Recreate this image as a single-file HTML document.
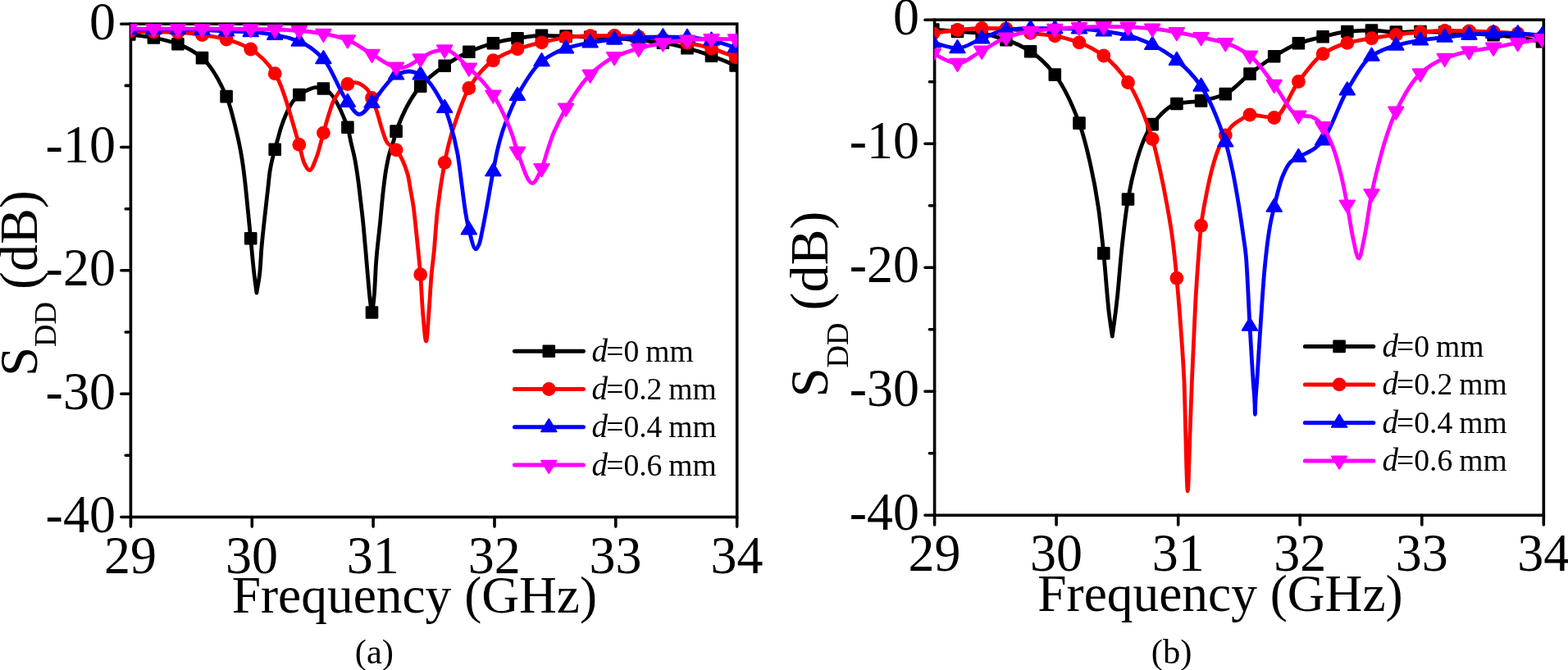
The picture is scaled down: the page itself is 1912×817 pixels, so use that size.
<!DOCTYPE html>
<html lang="en">
<head>
<meta charset="utf-8">
<title>S_DD versus frequency</title>
<style>
html,body{margin:0;padding:0;background:#fff;}
body{width:1912px;height:817px;overflow:hidden;}
svg{display:block;font-family:"Liberation Serif",serif;fill:#000;}
</style>
</head>
<body>
<svg width="1912" height="817" viewBox="0 0 1912 817">
<rect width="1912" height="817" fill="#fff"/>
<g stroke="#000" stroke-width="3.6" stroke-linecap="round" fill="none">
<rect x="159.4" y="29.2" width="739.3" height="601.3" stroke-linejoin="miter"/>
<path d="M159.4 630.5V642.1M307.3 630.5V642.1M455.1 630.5V642.1M603 630.5V642.1M750.8 630.5V642.1M898.7 630.5V642.1M159.4 29.2H147.8M159.4 179.5H147.8M159.4 329.8H147.8M159.4 480.2H147.8M159.4 630.5H147.8M159.4 104.4H153.2M159.4 254.7H153.2M159.4 405H153.2M159.4 555.3H153.2"/>
</g>
<clipPath id="ca"><rect x="159.1" y="29.2" width="740" height="601.3"/></clipPath>
<g clip-path="url(#ca)">
<path d="M157.8 42C167.7 43.3 177.5 44.2 187.4 46C197.2 47.8 207.1 50.2 216.9 53.7C226.8 57.2 236.7 62.3 246.5 70.6C256.4 78.9 266.2 94.8 276.1 117.6C281.1 129.1 286 149.6 291 172C292.4 178.5 293.9 185.9 295.3 195.1C296.6 203.6 298 214.6 299.3 226.5C300.1 233.9 301 243.2 301.8 251.6C303.1 264.6 304.4 277.6 305.7 290.7C307 304.7 308.4 320.9 309.8 333C310.8 342 311.9 349 312.9 357C314.2 348.9 315.5 344.5 316.8 332.8C317.5 326.2 318.3 310 319 301.4C320.1 288.9 321.1 280 322.2 270C323.6 256.9 325 245 326.4 232.8C327.4 224.3 328.3 213.7 329.3 207.7C330.3 201.7 331.2 197.6 332.2 193.5C333.2 189.2 334.2 186 335.2 182.3C336.4 178.2 337.5 174 338.6 170C340 165 341.4 159.5 342.8 155.3C345 148.5 347.3 142.5 349.5 137.7C352 132.3 354.5 127.3 357 123.9C359.6 120.4 362.2 117.5 364.8 115.6C369.2 112.4 373.7 110.3 378.1 108.6C380.2 107.8 382.2 106.6 384.3 106.6C387.7 106.6 391 107.2 394.4 108C404.2 110.2 414.1 128.5 423.9 155.2C425.2 158.5 426.4 166.5 427.6 172C429.4 179.9 431.1 185.8 432.9 195.1C434.2 201.9 435.5 210.7 436.8 220.2C437.8 227.5 438.8 236.7 439.8 245.3C440.8 253.9 441.8 261.9 442.8 271.7C444.2 285.8 445.7 303.9 447.1 320.2C448.2 332.7 449.3 347 450.4 357.9C451.4 368.1 452.5 376 453.5 385C454.5 376 455.5 370.2 456.5 357.9C457.2 349.3 457.9 329.5 458.6 320.2C460.2 298.5 461.9 288.2 463.5 271.7C464.8 258.9 466 243.8 467.3 232.8C468.4 223.2 469.5 214.2 470.6 207.7C472.1 198.8 473.6 191.8 475.1 186.3C476.7 180.4 478.3 177.3 479.9 172C481 168.4 482 163 483.1 160.1C492.9 133.2 502.8 116.5 512.7 105.1C522.5 93.7 532.4 86.9 542.2 80.2C552.1 73.5 562 67.6 571.8 63.3C581.7 59 591.5 55.3 601.4 52.7C611.2 50.1 621.1 48.1 631 46.7C640.8 45.3 650.7 43.3 660.5 43.3C670.4 43.3 680.2 43.8 690.1 44.1C700 44.4 709.8 44.8 719.7 45.2C729.5 45.6 739.4 46 749.2 46.6C759.1 47.2 769 48.1 778.8 49C788.7 49.9 798.5 50.8 808.4 52.2C818.2 53.6 828.1 56.2 838 58.8C847.8 61.4 857.7 64.6 867.5 68.1C877.4 71.6 887.2 76 897.1 80" fill="none" stroke="#000" stroke-width="4.8" stroke-linejoin="round" stroke-linecap="round"/>
<g><rect x="151.2" y="35.4" width="13.2" height="13.2" fill="#000" stroke="#000" stroke-width="2.4" stroke-linejoin="round"/><rect x="180.8" y="39.4" width="13.2" height="13.2" fill="#000" stroke="#000" stroke-width="2.4" stroke-linejoin="round"/><rect x="210.3" y="47.1" width="13.2" height="13.2" fill="#000" stroke="#000" stroke-width="2.4" stroke-linejoin="round"/><rect x="239.9" y="64" width="13.2" height="13.2" fill="#000" stroke="#000" stroke-width="2.4" stroke-linejoin="round"/><rect x="269.5" y="111" width="13.2" height="13.2" fill="#000" stroke="#000" stroke-width="2.4" stroke-linejoin="round"/><rect x="299.1" y="284.1" width="13.2" height="13.2" fill="#000" stroke="#000" stroke-width="2.4" stroke-linejoin="round"/><rect x="328.6" y="175.7" width="13.2" height="13.2" fill="#000" stroke="#000" stroke-width="2.4" stroke-linejoin="round"/><rect x="358.2" y="109" width="13.2" height="13.2" fill="#000" stroke="#000" stroke-width="2.4" stroke-linejoin="round"/><rect x="387.8" y="101.4" width="13.2" height="13.2" fill="#000" stroke="#000" stroke-width="2.4" stroke-linejoin="round"/><rect x="417.3" y="148.6" width="13.2" height="13.2" fill="#000" stroke="#000" stroke-width="2.4" stroke-linejoin="round"/><rect x="446.9" y="374.4" width="13.2" height="13.2" fill="#000" stroke="#000" stroke-width="2.4" stroke-linejoin="round"/><rect x="476.5" y="153.5" width="13.2" height="13.2" fill="#000" stroke="#000" stroke-width="2.4" stroke-linejoin="round"/><rect x="506.1" y="98.5" width="13.2" height="13.2" fill="#000" stroke="#000" stroke-width="2.4" stroke-linejoin="round"/><rect x="535.6" y="73.6" width="13.2" height="13.2" fill="#000" stroke="#000" stroke-width="2.4" stroke-linejoin="round"/><rect x="565.2" y="56.7" width="13.2" height="13.2" fill="#000" stroke="#000" stroke-width="2.4" stroke-linejoin="round"/><rect x="594.8" y="46.1" width="13.2" height="13.2" fill="#000" stroke="#000" stroke-width="2.4" stroke-linejoin="round"/><rect x="624.4" y="40.1" width="13.2" height="13.2" fill="#000" stroke="#000" stroke-width="2.4" stroke-linejoin="round"/><rect x="653.9" y="36.7" width="13.2" height="13.2" fill="#000" stroke="#000" stroke-width="2.4" stroke-linejoin="round"/><rect x="683.5" y="37.5" width="13.2" height="13.2" fill="#000" stroke="#000" stroke-width="2.4" stroke-linejoin="round"/><rect x="713.1" y="38.6" width="13.2" height="13.2" fill="#000" stroke="#000" stroke-width="2.4" stroke-linejoin="round"/><rect x="742.6" y="40" width="13.2" height="13.2" fill="#000" stroke="#000" stroke-width="2.4" stroke-linejoin="round"/><rect x="772.2" y="42.4" width="13.2" height="13.2" fill="#000" stroke="#000" stroke-width="2.4" stroke-linejoin="round"/><rect x="801.8" y="45.6" width="13.2" height="13.2" fill="#000" stroke="#000" stroke-width="2.4" stroke-linejoin="round"/><rect x="831.4" y="52.2" width="13.2" height="13.2" fill="#000" stroke="#000" stroke-width="2.4" stroke-linejoin="round"/><rect x="860.9" y="61.5" width="13.2" height="13.2" fill="#000" stroke="#000" stroke-width="2.4" stroke-linejoin="round"/><rect x="890.5" y="73.4" width="13.2" height="13.2" fill="#000" stroke="#000" stroke-width="2.4" stroke-linejoin="round"/></g>
<path d="M157.8 38.5C167.7 38.6 177.5 38.7 187.4 38.8C197.2 38.9 207.1 39.1 216.9 39.4C226.8 39.7 236.7 41.3 246.5 42.6C256.4 43.9 266.2 45.5 276.1 48C285.9 50.5 295.8 54.3 305.7 60C315.5 65.7 325.4 75 335.2 89.7C345.1 104.4 354.9 143.7 364.8 176.4C366.9 183.3 368.9 194.8 371 198.9C373.2 203.2 375.3 207.7 377.5 207.7C380.4 207.7 383.2 198.4 386.1 191.3C388.9 184.5 391.6 171.7 394.4 162.1C396.5 154.7 398.6 146.8 400.7 140.2C402.8 133.8 404.8 126.4 406.9 122.7C412.6 112.6 418.3 104.3 423.9 102.5C427.1 101.5 430.2 100.7 433.3 100.7C437.9 100.7 442.5 104.1 447.1 108.2C449.2 110.1 451.4 114.8 453.5 119.4C455.6 123.8 457.6 130.2 459.7 136.5C461.8 142.8 463.8 151.7 465.9 157.8C468 164 470.1 171.4 472.2 174.1C475.8 178.8 479.5 178.7 483.1 182.9C487.8 188.3 492.5 196.9 497.2 212.8C498.3 216.6 499.5 225.2 500.6 231.6C501.8 238.2 502.9 243.5 504.1 251.7C505.2 259.2 506.2 270.3 507.3 280.2C508.2 288.2 509 296.5 509.9 305.3C510.8 314.6 511.7 322.9 512.7 334.7C513.6 346.8 514.6 369.4 515.5 380.2C516.9 396.2 518.3 416.2 519.7 416.2C520.8 416.2 521.9 393.9 523 380.2C524.1 366.9 525.1 345.8 526.2 334C527.3 322.2 528.3 316.9 529.4 305.3C530 298.4 530.7 287.8 531.3 280.2C532.1 271 532.8 261.7 533.6 255.1C536.5 230.3 539.4 213.3 542.2 198.3C544.5 186.6 546.7 177.1 549 168.8C550.7 162.4 552.5 157 554.2 152C560.1 135 565.9 117 571.8 107.5C581.7 91.5 591.5 80.3 601.4 73.7C611.2 67.1 621.1 63.1 631 59.7C640.8 56.3 650.7 54.1 660.5 51.8C670.4 49.5 680.2 46.8 690.1 45.8C700 44.8 709.8 43.8 719.7 43.7C729.5 43.6 739.4 43.5 749.2 43.5C759.1 43.5 769 44.2 778.8 44.8C788.7 45.4 798.5 46.6 808.4 47.8C818.2 49 828.1 50.4 838 52.2C847.8 54 857.7 56.3 867.5 59.1C877.4 61.9 887.2 66.2 897.1 69.7" fill="none" stroke="#f00" stroke-width="4.8" stroke-linejoin="round" stroke-linecap="round"/>
<g><circle cx="157.8" cy="38.5" r="8.4" fill="#f00"/><circle cx="187.4" cy="38.8" r="8.4" fill="#f00"/><circle cx="216.9" cy="39.4" r="8.4" fill="#f00"/><circle cx="246.5" cy="42.6" r="8.4" fill="#f00"/><circle cx="276.1" cy="48" r="8.4" fill="#f00"/><circle cx="305.7" cy="60" r="8.4" fill="#f00"/><circle cx="335.2" cy="89.7" r="8.4" fill="#f00"/><circle cx="364.8" cy="176.4" r="8.4" fill="#f00"/><circle cx="394.4" cy="162.1" r="8.4" fill="#f00"/><circle cx="423.9" cy="102.5" r="8.4" fill="#f00"/><circle cx="453.5" cy="119.4" r="8.4" fill="#f00"/><circle cx="483.1" cy="182.9" r="8.4" fill="#f00"/><circle cx="512.7" cy="334.7" r="8.4" fill="#f00"/><circle cx="542.2" cy="198.3" r="8.4" fill="#f00"/><circle cx="571.8" cy="107.5" r="8.4" fill="#f00"/><circle cx="601.4" cy="73.7" r="8.4" fill="#f00"/><circle cx="631" cy="59.7" r="8.4" fill="#f00"/><circle cx="660.5" cy="51.8" r="8.4" fill="#f00"/><circle cx="690.1" cy="45.8" r="8.4" fill="#f00"/><circle cx="719.7" cy="43.7" r="8.4" fill="#f00"/><circle cx="749.2" cy="43.5" r="8.4" fill="#f00"/><circle cx="778.8" cy="44.8" r="8.4" fill="#f00"/><circle cx="808.4" cy="47.8" r="8.4" fill="#f00"/><circle cx="838" cy="52.2" r="8.4" fill="#f00"/><circle cx="867.5" cy="59.1" r="8.4" fill="#f00"/><circle cx="897.1" cy="69.7" r="8.4" fill="#f00"/></g>
<path d="M157.8 35.8C167.7 35.8 177.5 35.8 187.4 35.8C197.2 35.8 207.1 35.8 216.9 35.8C226.8 35.8 236.7 36.3 246.5 36.6C256.4 36.9 266.2 37.6 276.1 38C285.9 38.4 295.8 38.4 305.7 38.9C315.5 39.4 325.4 40.9 335.2 42.5C345.1 44.1 354.9 46.6 364.8 50.4C374.7 54.2 384.5 61.6 394.4 71.8C404.2 82 414.1 112 423.9 124.6C428.7 130.7 433.4 139.5 438.2 139.5C443.3 139.5 448.4 131 453.5 125.6C459 119.8 464.5 110.7 470 104.5C474.4 99.6 478.7 93.1 483.1 91.2C488.4 88.9 493.7 87 499 87C503.6 87 508.1 89 512.7 91C522.5 95.4 532.4 111.9 542.2 131.5C544.4 135.9 546.6 142.8 548.8 150C551.9 160.1 554.9 171.1 558 187.7C559.7 196.9 561.4 212.8 563.1 225.3C564.6 236.6 566.2 250.1 567.7 259.3C569.1 267.5 570.4 274.9 571.8 280C574.6 290.5 577.4 303.9 580.2 303.9C581.6 303.9 582.9 300.8 584.3 297.8C585.6 294.8 587 286.6 588.3 280.2C589.9 272.6 591.5 263.7 593.1 255.1C595.9 240.2 598.6 223.3 601.4 208.8C603.2 199.2 605.1 189.2 606.9 181.4C608.6 174.2 610.3 168.1 612 162.6C613.3 158.3 614.7 154.5 616 151C621 137.9 626 125.5 631 116.6C640.8 98.9 650.7 82.6 660.5 74.9C670.4 67.2 680.2 62.2 690.1 59C700 55.8 709.8 53.7 719.7 52C729.5 50.3 739.4 49 749.2 48C759.1 47 769 45.8 778.8 45.5C788.7 45.2 798.5 45 808.4 45C818.2 45 828.1 45.2 838 45.5C847.8 45.8 857.7 47.6 867.5 49.4C877.4 51.2 887.2 55.1 897.1 58" fill="none" stroke="#00f" stroke-width="4.8" stroke-linejoin="round" stroke-linecap="round"/>
<g><path d="M157.8 26L167 41.2L148.6 41.2Z" fill="#00f" stroke="#00f" stroke-width="2" stroke-linejoin="round"/><path d="M187.4 26L196.6 41.2L178.2 41.2Z" fill="#00f" stroke="#00f" stroke-width="2" stroke-linejoin="round"/><path d="M216.9 26L226.1 41.2L207.7 41.2Z" fill="#00f" stroke="#00f" stroke-width="2" stroke-linejoin="round"/><path d="M246.5 26.8L255.7 42L237.3 42Z" fill="#00f" stroke="#00f" stroke-width="2" stroke-linejoin="round"/><path d="M276.1 28.2L285.3 43.4L266.9 43.4Z" fill="#00f" stroke="#00f" stroke-width="2" stroke-linejoin="round"/><path d="M305.7 29.1L314.9 44.3L296.5 44.3Z" fill="#00f" stroke="#00f" stroke-width="2" stroke-linejoin="round"/><path d="M335.2 32.7L344.4 47.9L326 47.9Z" fill="#00f" stroke="#00f" stroke-width="2" stroke-linejoin="round"/><path d="M364.8 40.6L374 55.8L355.6 55.8Z" fill="#00f" stroke="#00f" stroke-width="2" stroke-linejoin="round"/><path d="M394.4 62L403.6 77.2L385.2 77.2Z" fill="#00f" stroke="#00f" stroke-width="2" stroke-linejoin="round"/><path d="M423.9 114.8L433.1 130L414.7 130Z" fill="#00f" stroke="#00f" stroke-width="2" stroke-linejoin="round"/><path d="M453.5 115.8L462.7 131L444.3 131Z" fill="#00f" stroke="#00f" stroke-width="2" stroke-linejoin="round"/><path d="M483.1 81.4L492.3 96.6L473.9 96.6Z" fill="#00f" stroke="#00f" stroke-width="2" stroke-linejoin="round"/><path d="M512.7 81.2L521.9 96.4L503.5 96.4Z" fill="#00f" stroke="#00f" stroke-width="2" stroke-linejoin="round"/><path d="M542.2 121.7L551.4 136.9L533 136.9Z" fill="#00f" stroke="#00f" stroke-width="2" stroke-linejoin="round"/><path d="M571.8 270.2L581 285.4L562.6 285.4Z" fill="#00f" stroke="#00f" stroke-width="2" stroke-linejoin="round"/><path d="M601.4 199L610.6 214.2L592.2 214.2Z" fill="#00f" stroke="#00f" stroke-width="2" stroke-linejoin="round"/><path d="M631 106.8L640.2 122L621.8 122Z" fill="#00f" stroke="#00f" stroke-width="2" stroke-linejoin="round"/><path d="M660.5 65.1L669.7 80.3L651.3 80.3Z" fill="#00f" stroke="#00f" stroke-width="2" stroke-linejoin="round"/><path d="M690.1 49.2L699.3 64.4L680.9 64.4Z" fill="#00f" stroke="#00f" stroke-width="2" stroke-linejoin="round"/><path d="M719.7 42.2L728.9 57.4L710.5 57.4Z" fill="#00f" stroke="#00f" stroke-width="2" stroke-linejoin="round"/><path d="M749.2 38.2L758.4 53.4L740 53.4Z" fill="#00f" stroke="#00f" stroke-width="2" stroke-linejoin="round"/><path d="M778.8 35.7L788 50.9L769.6 50.9Z" fill="#00f" stroke="#00f" stroke-width="2" stroke-linejoin="round"/><path d="M808.4 35.2L817.6 50.4L799.2 50.4Z" fill="#00f" stroke="#00f" stroke-width="2" stroke-linejoin="round"/><path d="M838 35.7L847.2 50.9L828.8 50.9Z" fill="#00f" stroke="#00f" stroke-width="2" stroke-linejoin="round"/><path d="M867.5 39.6L876.7 54.8L858.3 54.8Z" fill="#00f" stroke="#00f" stroke-width="2" stroke-linejoin="round"/><path d="M897.1 48.2L906.3 63.4L887.9 63.4Z" fill="#00f" stroke="#00f" stroke-width="2" stroke-linejoin="round"/></g>
<path d="M157.8 35.1C167.7 35.1 177.5 35.1 187.4 35.1C197.2 35.1 207.1 35.1 216.9 35.1C226.8 35.1 236.7 35.1 246.5 35.1C256.4 35.1 266.2 35.1 276.1 35.1C285.9 35.1 295.8 35.3 305.7 35.4C315.5 35.5 325.4 35.9 335.2 36.2C345.1 36.5 354.9 36.9 364.8 37.5C374.7 38.1 384.5 39.5 394.4 41.2C404.2 42.9 414.1 45.2 423.9 48.7C433.8 52.2 443.7 60.7 453.5 66.2C463.4 71.7 473.2 80.6 483.1 82C485.2 82.3 487.4 82.6 489.5 82.6C497.2 82.6 504.9 75.5 512.7 71.6C517.7 69 522.8 64.7 527.9 63.3C532.7 62 537.5 60.7 542.2 60.7C552.1 60.7 562 74 571.8 82.8C581.7 91.6 591.5 101.5 601.4 115.8C607.5 124.7 613.7 137.8 619.8 152C621.6 156.2 623.4 161.1 625.2 166.3C627.1 171.9 629 179.8 631 184.9C637 201 643.1 223.4 649.2 223.4C653 223.4 656.7 213.5 660.5 205.4C663 200.1 665.5 189.7 668 182.3C670.3 175.5 672.5 168.1 674.8 162.6C676.5 158.6 678.1 155.4 679.8 152C683.2 145 686.7 137.7 690.1 132C700 115.6 709.8 100.3 719.7 90.9C729.5 81.5 739.4 74 749.2 69.4C759.1 64.8 769 61.8 778.8 59.1C788.7 56.4 798.5 54.2 808.4 52.6C818.2 51 828.1 49.4 838 48.8C847.8 48.2 857.7 47.5 867.5 47.5C877.4 47.5 887.2 47.6 897.1 47.6" fill="none" stroke="#f0f" stroke-width="4.8" stroke-linejoin="round" stroke-linecap="round"/>
<g><path d="M157.8 44.9L167 29.7L148.6 29.7Z" fill="#f0f" stroke="#f0f" stroke-width="2" stroke-linejoin="round"/><path d="M187.4 44.9L196.6 29.7L178.2 29.7Z" fill="#f0f" stroke="#f0f" stroke-width="2" stroke-linejoin="round"/><path d="M216.9 44.9L226.1 29.7L207.7 29.7Z" fill="#f0f" stroke="#f0f" stroke-width="2" stroke-linejoin="round"/><path d="M246.5 44.9L255.7 29.7L237.3 29.7Z" fill="#f0f" stroke="#f0f" stroke-width="2" stroke-linejoin="round"/><path d="M276.1 44.9L285.3 29.7L266.9 29.7Z" fill="#f0f" stroke="#f0f" stroke-width="2" stroke-linejoin="round"/><path d="M305.7 45.2L314.9 30L296.5 30Z" fill="#f0f" stroke="#f0f" stroke-width="2" stroke-linejoin="round"/><path d="M335.2 46L344.4 30.8L326 30.8Z" fill="#f0f" stroke="#f0f" stroke-width="2" stroke-linejoin="round"/><path d="M364.8 47.3L374 32.1L355.6 32.1Z" fill="#f0f" stroke="#f0f" stroke-width="2" stroke-linejoin="round"/><path d="M394.4 51L403.6 35.8L385.2 35.8Z" fill="#f0f" stroke="#f0f" stroke-width="2" stroke-linejoin="round"/><path d="M423.9 58.5L433.1 43.3L414.7 43.3Z" fill="#f0f" stroke="#f0f" stroke-width="2" stroke-linejoin="round"/><path d="M453.5 76L462.7 60.8L444.3 60.8Z" fill="#f0f" stroke="#f0f" stroke-width="2" stroke-linejoin="round"/><path d="M483.1 91.8L492.3 76.6L473.9 76.6Z" fill="#f0f" stroke="#f0f" stroke-width="2" stroke-linejoin="round"/><path d="M512.7 81.4L521.9 66.2L503.5 66.2Z" fill="#f0f" stroke="#f0f" stroke-width="2" stroke-linejoin="round"/><path d="M542.2 70.5L551.4 55.3L533 55.3Z" fill="#f0f" stroke="#f0f" stroke-width="2" stroke-linejoin="round"/><path d="M571.8 92.6L581 77.4L562.6 77.4Z" fill="#f0f" stroke="#f0f" stroke-width="2" stroke-linejoin="round"/><path d="M601.4 125.6L610.6 110.4L592.2 110.4Z" fill="#f0f" stroke="#f0f" stroke-width="2" stroke-linejoin="round"/><path d="M631 194.7L640.2 179.5L621.8 179.5Z" fill="#f0f" stroke="#f0f" stroke-width="2" stroke-linejoin="round"/><path d="M660.5 215.2L669.7 200L651.3 200Z" fill="#f0f" stroke="#f0f" stroke-width="2" stroke-linejoin="round"/><path d="M690.1 141.8L699.3 126.6L680.9 126.6Z" fill="#f0f" stroke="#f0f" stroke-width="2" stroke-linejoin="round"/><path d="M719.7 100.7L728.9 85.5L710.5 85.5Z" fill="#f0f" stroke="#f0f" stroke-width="2" stroke-linejoin="round"/><path d="M749.2 79.2L758.4 64L740 64Z" fill="#f0f" stroke="#f0f" stroke-width="2" stroke-linejoin="round"/><path d="M778.8 68.9L788 53.7L769.6 53.7Z" fill="#f0f" stroke="#f0f" stroke-width="2" stroke-linejoin="round"/><path d="M808.4 62.4L817.6 47.2L799.2 47.2Z" fill="#f0f" stroke="#f0f" stroke-width="2" stroke-linejoin="round"/><path d="M838 58.6L847.2 43.4L828.8 43.4Z" fill="#f0f" stroke="#f0f" stroke-width="2" stroke-linejoin="round"/><path d="M867.5 57.3L876.7 42.1L858.3 42.1Z" fill="#f0f" stroke="#f0f" stroke-width="2" stroke-linejoin="round"/><path d="M897.1 57.4L906.3 42.2L887.9 42.2Z" fill="#f0f" stroke="#f0f" stroke-width="2" stroke-linejoin="round"/></g>
</g>
<g font-size="64" text-anchor="middle">
<text transform="translate(159.1 698.5) scale(1 1.035)">29</text>
<text transform="translate(307 698.5) scale(1 1.035)">30</text>
<text transform="translate(454.8 698.5) scale(1 1.035)">31</text>
<text transform="translate(602.7 698.5) scale(1 1.035)">32</text>
<text transform="translate(750.5 698.5) scale(1 1.035)">33</text>
<text transform="translate(898.4 698.5) scale(1 1.035)">34</text>
</g>
<g font-size="64" text-anchor="end">
<text transform="translate(140.9 47.5) scale(1 1.035)">0</text>
<text transform="translate(140.9 197.8) scale(1 1.035)">-10</text>
<text transform="translate(140.9 348.1) scale(1 1.035)">-20</text>
<text transform="translate(140.9 498.5) scale(1 1.035)">-30</text>
<text transform="translate(140.9 648.8) scale(1 1.035)">-40</text>
</g>
<text x="505.4" y="746.7" font-size="63.4" text-anchor="middle">Frequency (GHz)</text>
<text transform="translate(44.5 458.8) rotate(-90)" font-size="64.5">S<tspan font-size="38" dy="23.4">DD</tspan><tspan dy="-23.4" dx="-1.5" font-size="66"> (dB)</tspan></text>
<text x="456.4" y="809" font-size="42.6" text-anchor="middle">(a)</text>
<path d="M627.4 428.2H711.4" stroke="#000" stroke-width="5" stroke-linecap="round"/>
<rect x="662.7" y="421.6" width="13.2" height="13.2" fill="#000" stroke="#000" stroke-width="2.4" stroke-linejoin="round"/>
<text x="721.5" y="440.7" font-size="37.6" word-spacing="-1.4"><tspan font-style="italic" font-size="39">d</tspan><tspan x="739.2">=0 mm</tspan></text>
<path d="M627.4 474.5H711.4" stroke="#f00" stroke-width="5" stroke-linecap="round"/>
<circle cx="669.3" cy="474.5" r="8.4" fill="#f00"/>
<text x="721.5" y="487" font-size="37.6" word-spacing="-1.4"><tspan font-style="italic" font-size="39">d</tspan><tspan x="739.2">=0.2 mm</tspan></text>
<path d="M627.4 520.8H711.4" stroke="#00f" stroke-width="5" stroke-linecap="round"/>
<path d="M669.3 511L678.5 526.2L660.1 526.2Z" fill="#00f" stroke="#00f" stroke-width="2" stroke-linejoin="round"/>
<text x="721.5" y="533.3" font-size="37.6" word-spacing="-1.4"><tspan font-style="italic" font-size="39">d</tspan><tspan x="739.2">=0.4 mm</tspan></text>
<path d="M627.4 567.1H711.4" stroke="#f0f" stroke-width="5" stroke-linecap="round"/>
<path d="M669.3 576.9L678.5 561.7L660.1 561.7Z" fill="#f0f" stroke="#f0f" stroke-width="2" stroke-linejoin="round"/>
<text x="721.5" y="579.6" font-size="37.6" word-spacing="-1.4"><tspan font-style="italic" font-size="39">d</tspan><tspan x="739.2">=0.6 mm</tspan></text>
<g stroke="#000" stroke-width="3.6" stroke-linecap="round" fill="none">
<rect x="1139.6" y="24.2" width="742.7" height="604.1" stroke-linejoin="miter"/>
<path d="M1139.6 628.3V639.9M1288.1 628.3V639.9M1436.7 628.3V639.9M1585.2 628.3V639.9M1733.8 628.3V639.9M1882.3 628.3V639.9M1139.6 24.2H1128M1139.6 175.2H1128M1139.6 326.2H1128M1139.6 477.3H1128M1139.6 628.3H1128M1139.6 99.7H1133.4M1139.6 250.7H1133.4M1139.6 401.8H1133.4M1139.6 552.8H1133.4"/>
</g>
<clipPath id="cb"><rect x="1139.3" y="24.2" width="743.4" height="604.1"/></clipPath>
<g clip-path="url(#cb)">
<path d="M1137.8 36.1C1147.7 36.9 1157.6 37.6 1167.5 38.4C1177.4 39.2 1187.3 39.6 1197.2 40.8C1207.1 42 1217 45.3 1226.9 48.6C1236.8 51.9 1246.7 56.4 1256.6 62.7C1266.5 69 1276.4 78.3 1286.3 91.1C1296.2 103.9 1306.1 123.5 1316 150.1C1320.5 162.1 1325 179.8 1329.5 199.7C1332.8 214.3 1336.1 230.8 1339.4 253.3C1341.5 267.7 1343.6 288.1 1345.8 308.9C1347.9 329.7 1350 361.7 1352.1 380C1353.5 392.1 1354.9 400.1 1356.3 410.2C1357.7 400.1 1359 391 1360.4 380C1361.2 373.8 1361.9 367.3 1362.7 360C1364.3 344.3 1366 321.3 1367.6 306C1370.2 281.4 1372.8 258.2 1375.5 243C1378.7 224.3 1381.9 211.2 1385.1 199.7C1388.4 187.7 1391.8 177.4 1395.1 169.9C1398.5 162.3 1401.8 155.7 1405.2 151.6C1415.1 139.4 1425 128.6 1434.9 126.5C1444.8 124.4 1454.7 124.6 1464.6 122.9C1474.5 121.2 1484.4 118.7 1494.3 114.6C1504.2 110.5 1514.1 97.7 1524 90.1C1533.9 82.5 1543.8 74.8 1553.7 68.7C1563.6 62.6 1573.5 56.3 1583.4 52.8C1593.3 49.3 1603.2 47.1 1613.1 44.8C1623 42.5 1632.9 39.3 1642.8 38.5C1652.7 37.7 1662.6 37.1 1672.5 37.1C1682.4 37.1 1692.3 39.1 1702.3 39.1C1712.2 39.1 1722.1 38.5 1732 38.5C1741.9 38.5 1751.8 39 1761.7 39.4C1771.6 39.8 1781.5 40.5 1791.4 41C1801.3 41.5 1811.2 41.9 1821.1 42.6C1831 43.3 1840.9 44.7 1850.8 46C1860.7 47.3 1870.6 49.2 1880.5 50.8" fill="none" stroke="#000" stroke-width="4.8" stroke-linejoin="round" stroke-linecap="round"/>
<g><rect x="1131.2" y="29.5" width="13.2" height="13.2" fill="#000" stroke="#000" stroke-width="2.4" stroke-linejoin="round"/><rect x="1160.9" y="31.8" width="13.2" height="13.2" fill="#000" stroke="#000" stroke-width="2.4" stroke-linejoin="round"/><rect x="1190.6" y="34.2" width="13.2" height="13.2" fill="#000" stroke="#000" stroke-width="2.4" stroke-linejoin="round"/><rect x="1220.3" y="42" width="13.2" height="13.2" fill="#000" stroke="#000" stroke-width="2.4" stroke-linejoin="round"/><rect x="1250" y="56.1" width="13.2" height="13.2" fill="#000" stroke="#000" stroke-width="2.4" stroke-linejoin="round"/><rect x="1279.7" y="84.5" width="13.2" height="13.2" fill="#000" stroke="#000" stroke-width="2.4" stroke-linejoin="round"/><rect x="1309.4" y="143.5" width="13.2" height="13.2" fill="#000" stroke="#000" stroke-width="2.4" stroke-linejoin="round"/><rect x="1339.2" y="302.3" width="13.2" height="13.2" fill="#000" stroke="#000" stroke-width="2.4" stroke-linejoin="round"/><rect x="1368.9" y="236.4" width="13.2" height="13.2" fill="#000" stroke="#000" stroke-width="2.4" stroke-linejoin="round"/><rect x="1398.6" y="145" width="13.2" height="13.2" fill="#000" stroke="#000" stroke-width="2.4" stroke-linejoin="round"/><rect x="1428.3" y="119.9" width="13.2" height="13.2" fill="#000" stroke="#000" stroke-width="2.4" stroke-linejoin="round"/><rect x="1458" y="116.3" width="13.2" height="13.2" fill="#000" stroke="#000" stroke-width="2.4" stroke-linejoin="round"/><rect x="1487.7" y="108" width="13.2" height="13.2" fill="#000" stroke="#000" stroke-width="2.4" stroke-linejoin="round"/><rect x="1517.4" y="83.5" width="13.2" height="13.2" fill="#000" stroke="#000" stroke-width="2.4" stroke-linejoin="round"/><rect x="1547.1" y="62.1" width="13.2" height="13.2" fill="#000" stroke="#000" stroke-width="2.4" stroke-linejoin="round"/><rect x="1576.8" y="46.2" width="13.2" height="13.2" fill="#000" stroke="#000" stroke-width="2.4" stroke-linejoin="round"/><rect x="1606.5" y="38.2" width="13.2" height="13.2" fill="#000" stroke="#000" stroke-width="2.4" stroke-linejoin="round"/><rect x="1636.2" y="31.9" width="13.2" height="13.2" fill="#000" stroke="#000" stroke-width="2.4" stroke-linejoin="round"/><rect x="1665.9" y="30.5" width="13.2" height="13.2" fill="#000" stroke="#000" stroke-width="2.4" stroke-linejoin="round"/><rect x="1695.7" y="32.5" width="13.2" height="13.2" fill="#000" stroke="#000" stroke-width="2.4" stroke-linejoin="round"/><rect x="1725.4" y="31.9" width="13.2" height="13.2" fill="#000" stroke="#000" stroke-width="2.4" stroke-linejoin="round"/><rect x="1755.1" y="32.8" width="13.2" height="13.2" fill="#000" stroke="#000" stroke-width="2.4" stroke-linejoin="round"/><rect x="1784.8" y="34.4" width="13.2" height="13.2" fill="#000" stroke="#000" stroke-width="2.4" stroke-linejoin="round"/><rect x="1814.5" y="36" width="13.2" height="13.2" fill="#000" stroke="#000" stroke-width="2.4" stroke-linejoin="round"/><rect x="1844.2" y="39.4" width="13.2" height="13.2" fill="#000" stroke="#000" stroke-width="2.4" stroke-linejoin="round"/><rect x="1873.9" y="44.2" width="13.2" height="13.2" fill="#000" stroke="#000" stroke-width="2.4" stroke-linejoin="round"/></g>
<path d="M1137.8 40.8C1147.7 39.4 1157.6 37.4 1167.5 36.5C1177.4 35.6 1187.3 34.5 1197.2 34.5C1207.1 34.5 1217 34.7 1226.9 34.9C1236.8 35.1 1246.7 39 1256.6 40.4C1266.5 41.8 1276.4 42.2 1286.3 43.8C1296.2 45.4 1306.1 48.3 1316 51.9C1326 55.5 1335.9 60.8 1345.8 68C1355.7 75.2 1365.6 85.8 1375.5 100.5C1385.4 115.2 1395.3 138.8 1405.2 169.5C1408.4 179.7 1411.7 194.8 1415 209.6C1417.6 221.5 1420.3 235 1422.9 249.4C1424.9 260.4 1426.9 271.1 1428.9 285.1C1430 292.8 1431.1 302 1432.2 312C1433.1 320.1 1434 329.4 1434.9 339.2C1436.5 357.2 1438.2 376.8 1439.8 399.4C1441.1 417.8 1442.5 434.6 1443.8 462C1445.3 492.8 1446.8 599 1448.3 599C1449.2 599 1450.1 553.7 1451 530C1451.8 508 1452.7 482.5 1453.5 462C1454.9 427.6 1456.3 394.7 1457.7 369.6C1459 346.9 1460.2 328.8 1461.5 312C1462.5 298.3 1463.6 283.7 1464.6 275.2C1466.6 258.7 1468.6 249.7 1470.6 239.4C1473.3 225.7 1475.9 213.3 1478.6 203.7C1481.2 194.2 1483.9 186 1486.5 179.8C1489.1 173.7 1491.7 169 1494.3 164.9C1497.3 160.1 1500.4 155.4 1503.4 152.6C1506.7 149.5 1510.1 147.6 1513.4 145.6C1516.9 143.5 1520.5 140 1524 140C1533.9 140 1543.8 143.5 1553.7 143.5C1563.6 143.5 1573.5 112.2 1583.4 99.5C1593.3 86.8 1603.2 72.1 1613.1 65.7C1623 59.3 1632.9 55.1 1642.8 52.4C1652.7 49.7 1662.6 48.3 1672.5 46.7C1682.4 45.1 1692.3 43.6 1702.3 42.4C1712.2 41.2 1722.1 39.8 1732 39.1C1741.9 38.4 1751.8 37.5 1761.7 37.5C1771.6 37.5 1781.5 37.7 1791.4 37.9C1801.3 38.1 1811.2 38.4 1821.1 38.8C1831 39.2 1840.9 39.9 1850.8 40.8C1860.7 41.7 1870.6 43.6 1880.5 45" fill="none" stroke="#f00" stroke-width="4.8" stroke-linejoin="round" stroke-linecap="round"/>
<g><circle cx="1137.8" cy="40.8" r="8.4" fill="#f00"/><circle cx="1167.5" cy="36.5" r="8.4" fill="#f00"/><circle cx="1197.2" cy="34.5" r="8.4" fill="#f00"/><circle cx="1226.9" cy="34.9" r="8.4" fill="#f00"/><circle cx="1256.6" cy="40.4" r="8.4" fill="#f00"/><circle cx="1286.3" cy="43.8" r="8.4" fill="#f00"/><circle cx="1316" cy="51.9" r="8.4" fill="#f00"/><circle cx="1345.8" cy="68" r="8.4" fill="#f00"/><circle cx="1375.5" cy="100.5" r="8.4" fill="#f00"/><circle cx="1405.2" cy="169.5" r="8.4" fill="#f00"/><circle cx="1434.9" cy="339.2" r="8.4" fill="#f00"/><circle cx="1464.6" cy="275.2" r="8.4" fill="#f00"/><circle cx="1494.3" cy="164.9" r="8.4" fill="#f00"/><circle cx="1524" cy="140" r="8.4" fill="#f00"/><circle cx="1553.7" cy="143.5" r="8.4" fill="#f00"/><circle cx="1583.4" cy="99.5" r="8.4" fill="#f00"/><circle cx="1613.1" cy="65.7" r="8.4" fill="#f00"/><circle cx="1642.8" cy="52.4" r="8.4" fill="#f00"/><circle cx="1672.5" cy="46.7" r="8.4" fill="#f00"/><circle cx="1702.3" cy="42.4" r="8.4" fill="#f00"/><circle cx="1732" cy="39.1" r="8.4" fill="#f00"/><circle cx="1761.7" cy="37.5" r="8.4" fill="#f00"/><circle cx="1791.4" cy="37.9" r="8.4" fill="#f00"/><circle cx="1821.1" cy="38.8" r="8.4" fill="#f00"/><circle cx="1850.8" cy="40.8" r="8.4" fill="#f00"/><circle cx="1880.5" cy="45" r="8.4" fill="#f00"/></g>
<path d="M1137.8 52C1147.7 54.3 1157.6 58.8 1167.5 58.8C1177.4 58.8 1187.3 50.7 1197.2 47C1207.1 43.3 1217 37.6 1226.9 36.5C1236.8 35.4 1246.7 34.5 1256.6 34.5C1266.5 34.5 1276.4 34.7 1286.3 34.8C1296.2 34.9 1306.1 35 1316 35.2C1326 35.4 1335.9 36.9 1345.8 38.2C1355.7 39.5 1365.6 41 1375.5 43.4C1385.4 45.8 1395.3 49.9 1405.2 54.6C1415.1 59.3 1425 65.6 1434.9 73.5C1444.8 81.4 1454.7 90.9 1464.6 105.3C1474.5 119.7 1484.4 142.7 1494.3 173.1C1497 181.4 1499.7 193.1 1502.4 205.6C1505.1 217.9 1507.7 233.2 1510.4 249.4C1512.4 261.3 1514.3 274.9 1516.3 289.1C1517.3 296.3 1518.3 301.6 1519.3 312C1520.9 328.4 1522.4 369.9 1524 397.4C1524.8 412 1525.7 426.4 1526.5 440C1527 448.7 1527.6 457.2 1528.1 465.1C1528.7 474 1529.3 477.9 1529.9 490.2C1530.1 493.6 1530.2 505.4 1530.4 505.4C1530.6 505.4 1530.7 493.6 1530.9 490.2C1531.5 477.9 1532.1 474 1532.7 465.1C1533.2 457.2 1533.8 448.3 1534.3 440C1535.3 423.9 1536.4 407.2 1537.4 392C1538.9 369.9 1540.4 345.2 1541.9 329.4C1543.9 308.4 1545.9 291.7 1547.9 279.7C1549.8 268.1 1551.8 260.5 1553.7 252.4C1557.1 238.4 1560.4 223.6 1563.8 215.5C1567.1 207.5 1570.4 200.6 1573.7 197.6C1576.9 194.6 1580.2 193.5 1583.4 191.6C1590.1 187.7 1596.8 185.6 1603.5 180.7C1606.7 178.4 1609.9 175.2 1613.1 171.1C1623 158.5 1632.9 126.5 1642.8 110C1652.7 93.5 1662.6 74.9 1672.5 68.3C1682.4 61.7 1692.3 58.2 1702.3 55.4C1712.2 52.6 1722.1 50.7 1732 49.1C1741.9 47.5 1751.8 46.5 1761.7 45.4C1771.6 44.3 1781.5 43.1 1791.4 42.4C1801.3 41.6 1811.2 40.6 1821.1 40.6C1831 40.6 1840.9 40.8 1850.8 41C1860.7 41.2 1870.6 42.3 1880.5 43" fill="none" stroke="#00f" stroke-width="4.8" stroke-linejoin="round" stroke-linecap="round"/>
<g><path d="M1137.8 42.2L1147 57.4L1128.6 57.4Z" fill="#00f" stroke="#00f" stroke-width="2" stroke-linejoin="round"/><path d="M1167.5 49L1176.7 64.2L1158.3 64.2Z" fill="#00f" stroke="#00f" stroke-width="2" stroke-linejoin="round"/><path d="M1197.2 37.2L1206.4 52.4L1188 52.4Z" fill="#00f" stroke="#00f" stroke-width="2" stroke-linejoin="round"/><path d="M1226.9 26.7L1236.1 41.9L1217.7 41.9Z" fill="#00f" stroke="#00f" stroke-width="2" stroke-linejoin="round"/><path d="M1256.6 24.7L1265.8 39.9L1247.4 39.9Z" fill="#00f" stroke="#00f" stroke-width="2" stroke-linejoin="round"/><path d="M1286.3 25L1295.5 40.2L1277.1 40.2Z" fill="#00f" stroke="#00f" stroke-width="2" stroke-linejoin="round"/><path d="M1316 25.4L1325.2 40.6L1306.8 40.6Z" fill="#00f" stroke="#00f" stroke-width="2" stroke-linejoin="round"/><path d="M1345.8 28.4L1355 43.6L1336.6 43.6Z" fill="#00f" stroke="#00f" stroke-width="2" stroke-linejoin="round"/><path d="M1375.5 33.6L1384.7 48.8L1366.3 48.8Z" fill="#00f" stroke="#00f" stroke-width="2" stroke-linejoin="round"/><path d="M1405.2 44.8L1414.4 60L1396 60Z" fill="#00f" stroke="#00f" stroke-width="2" stroke-linejoin="round"/><path d="M1434.9 63.7L1444.1 78.9L1425.7 78.9Z" fill="#00f" stroke="#00f" stroke-width="2" stroke-linejoin="round"/><path d="M1464.6 95.5L1473.8 110.7L1455.4 110.7Z" fill="#00f" stroke="#00f" stroke-width="2" stroke-linejoin="round"/><path d="M1494.3 163.3L1503.5 178.5L1485.1 178.5Z" fill="#00f" stroke="#00f" stroke-width="2" stroke-linejoin="round"/><path d="M1524 387.6L1533.2 402.8L1514.8 402.8Z" fill="#00f" stroke="#00f" stroke-width="2" stroke-linejoin="round"/><path d="M1553.7 242.6L1562.9 257.8L1544.5 257.8Z" fill="#00f" stroke="#00f" stroke-width="2" stroke-linejoin="round"/><path d="M1583.4 181.8L1592.6 197L1574.2 197Z" fill="#00f" stroke="#00f" stroke-width="2" stroke-linejoin="round"/><path d="M1613.1 161.3L1622.3 176.5L1603.9 176.5Z" fill="#00f" stroke="#00f" stroke-width="2" stroke-linejoin="round"/><path d="M1642.8 100.2L1652 115.4L1633.6 115.4Z" fill="#00f" stroke="#00f" stroke-width="2" stroke-linejoin="round"/><path d="M1672.5 58.5L1681.7 73.7L1663.3 73.7Z" fill="#00f" stroke="#00f" stroke-width="2" stroke-linejoin="round"/><path d="M1702.3 45.6L1711.5 60.8L1693.1 60.8Z" fill="#00f" stroke="#00f" stroke-width="2" stroke-linejoin="round"/><path d="M1732 39.3L1741.2 54.5L1722.8 54.5Z" fill="#00f" stroke="#00f" stroke-width="2" stroke-linejoin="round"/><path d="M1761.7 35.6L1770.9 50.8L1752.5 50.8Z" fill="#00f" stroke="#00f" stroke-width="2" stroke-linejoin="round"/><path d="M1791.4 32.6L1800.6 47.8L1782.2 47.8Z" fill="#00f" stroke="#00f" stroke-width="2" stroke-linejoin="round"/><path d="M1821.1 30.8L1830.3 46L1811.9 46Z" fill="#00f" stroke="#00f" stroke-width="2" stroke-linejoin="round"/><path d="M1850.8 31.2L1860 46.4L1841.6 46.4Z" fill="#00f" stroke="#00f" stroke-width="2" stroke-linejoin="round"/><path d="M1880.5 33.2L1889.7 48.4L1871.3 48.4Z" fill="#00f" stroke="#00f" stroke-width="2" stroke-linejoin="round"/></g>
<path d="M1137.8 65.5C1147.7 69.4 1157.6 77.2 1167.5 77.2C1177.4 77.2 1187.3 67.2 1197.2 62C1207.1 56.8 1217 49.3 1226.9 45.8C1236.8 42.3 1246.7 39.5 1256.6 38.1C1266.5 36.7 1276.4 35.9 1286.3 35.2C1296.2 34.5 1306.1 33.9 1316 33.4C1326 32.9 1335.9 32.3 1345.8 32.3C1355.7 32.3 1365.6 32.6 1375.5 32.9C1385.4 33.2 1395.3 34 1405.2 34.9C1415.1 35.8 1425 37.7 1434.9 39.4C1444.8 41.1 1454.7 43.2 1464.6 45.4C1474.5 47.6 1484.4 49.2 1494.3 52.4C1504.2 55.6 1514.1 60.6 1524 67.8C1533.9 75 1543.8 91 1553.7 103.2C1563.6 115.4 1573.5 139.5 1583.4 140.8C1588.2 141.4 1593 141.2 1597.8 141.9C1600.3 142.3 1602.8 144 1605.3 145.7C1607.9 147.5 1610.5 150.6 1613.1 154.3C1617.2 160 1621.3 169.1 1625.4 179.7C1628.7 188.3 1632 200.2 1635.3 213.5C1637.8 223.6 1640.3 236.6 1642.8 249.8C1645.3 262.7 1647.7 281.4 1650.2 292C1652.4 301.5 1654.6 315.2 1656.8 315.2C1658.9 315.2 1661.1 301.5 1663.2 292C1666.3 278.2 1669.4 251.9 1672.5 236.5C1675.7 220.7 1678.9 208.2 1682.1 196C1684.8 185.7 1687.5 175.9 1690.2 167.7C1694.2 155.5 1698.2 144 1702.3 135.8C1712.2 115.7 1722.1 98.4 1732 89.6C1741.9 80.8 1751.8 75 1761.7 71.1C1771.6 67.2 1781.5 64.6 1791.4 62.6C1801.3 60.6 1811.2 59.6 1821.1 57.9C1831 56.2 1840.9 54.1 1850.8 52.4C1860.7 50.7 1870.6 49.1 1880.5 47.4" fill="none" stroke="#f0f" stroke-width="4.8" stroke-linejoin="round" stroke-linecap="round"/>
<g><path d="M1137.8 75.3L1147 60.1L1128.6 60.1Z" fill="#f0f" stroke="#f0f" stroke-width="2" stroke-linejoin="round"/><path d="M1167.5 87L1176.7 71.8L1158.3 71.8Z" fill="#f0f" stroke="#f0f" stroke-width="2" stroke-linejoin="round"/><path d="M1197.2 71.8L1206.4 56.6L1188 56.6Z" fill="#f0f" stroke="#f0f" stroke-width="2" stroke-linejoin="round"/><path d="M1226.9 55.6L1236.1 40.4L1217.7 40.4Z" fill="#f0f" stroke="#f0f" stroke-width="2" stroke-linejoin="round"/><path d="M1256.6 47.9L1265.8 32.7L1247.4 32.7Z" fill="#f0f" stroke="#f0f" stroke-width="2" stroke-linejoin="round"/><path d="M1286.3 45L1295.5 29.8L1277.1 29.8Z" fill="#f0f" stroke="#f0f" stroke-width="2" stroke-linejoin="round"/><path d="M1316 43.2L1325.2 28L1306.8 28Z" fill="#f0f" stroke="#f0f" stroke-width="2" stroke-linejoin="round"/><path d="M1345.8 42.1L1355 26.9L1336.6 26.9Z" fill="#f0f" stroke="#f0f" stroke-width="2" stroke-linejoin="round"/><path d="M1375.5 42.7L1384.7 27.5L1366.3 27.5Z" fill="#f0f" stroke="#f0f" stroke-width="2" stroke-linejoin="round"/><path d="M1405.2 44.7L1414.4 29.5L1396 29.5Z" fill="#f0f" stroke="#f0f" stroke-width="2" stroke-linejoin="round"/><path d="M1434.9 49.2L1444.1 34L1425.7 34Z" fill="#f0f" stroke="#f0f" stroke-width="2" stroke-linejoin="round"/><path d="M1464.6 55.2L1473.8 40L1455.4 40Z" fill="#f0f" stroke="#f0f" stroke-width="2" stroke-linejoin="round"/><path d="M1494.3 62.2L1503.5 47L1485.1 47Z" fill="#f0f" stroke="#f0f" stroke-width="2" stroke-linejoin="round"/><path d="M1524 77.6L1533.2 62.4L1514.8 62.4Z" fill="#f0f" stroke="#f0f" stroke-width="2" stroke-linejoin="round"/><path d="M1553.7 113L1562.9 97.8L1544.5 97.8Z" fill="#f0f" stroke="#f0f" stroke-width="2" stroke-linejoin="round"/><path d="M1583.4 150.6L1592.6 135.4L1574.2 135.4Z" fill="#f0f" stroke="#f0f" stroke-width="2" stroke-linejoin="round"/><path d="M1613.1 164.1L1622.3 148.9L1603.9 148.9Z" fill="#f0f" stroke="#f0f" stroke-width="2" stroke-linejoin="round"/><path d="M1642.8 259.6L1652 244.4L1633.6 244.4Z" fill="#f0f" stroke="#f0f" stroke-width="2" stroke-linejoin="round"/><path d="M1672.5 246.3L1681.7 231.1L1663.3 231.1Z" fill="#f0f" stroke="#f0f" stroke-width="2" stroke-linejoin="round"/><path d="M1702.3 145.6L1711.5 130.4L1693.1 130.4Z" fill="#f0f" stroke="#f0f" stroke-width="2" stroke-linejoin="round"/><path d="M1732 99.4L1741.2 84.2L1722.8 84.2Z" fill="#f0f" stroke="#f0f" stroke-width="2" stroke-linejoin="round"/><path d="M1761.7 80.9L1770.9 65.7L1752.5 65.7Z" fill="#f0f" stroke="#f0f" stroke-width="2" stroke-linejoin="round"/><path d="M1791.4 72.4L1800.6 57.2L1782.2 57.2Z" fill="#f0f" stroke="#f0f" stroke-width="2" stroke-linejoin="round"/><path d="M1821.1 67.7L1830.3 52.5L1811.9 52.5Z" fill="#f0f" stroke="#f0f" stroke-width="2" stroke-linejoin="round"/><path d="M1850.8 62.2L1860 47L1841.6 47Z" fill="#f0f" stroke="#f0f" stroke-width="2" stroke-linejoin="round"/><path d="M1880.5 57.2L1889.7 42L1871.3 42Z" fill="#f0f" stroke="#f0f" stroke-width="2" stroke-linejoin="round"/></g>
</g>
<g font-size="64" text-anchor="middle">
<text transform="translate(1139.6 695.9) scale(1 1.035)">29</text>
<text transform="translate(1288.1 695.9) scale(1 1.035)">30</text>
<text transform="translate(1436.7 695.9) scale(1 1.035)">31</text>
<text transform="translate(1585.2 695.9) scale(1 1.035)">32</text>
<text transform="translate(1733.8 695.9) scale(1 1.035)">33</text>
<text transform="translate(1882.3 695.9) scale(1 1.035)">34</text>
</g>
<g font-size="64" text-anchor="end">
<text transform="translate(1121.1 41.7) scale(1 1.035)">0</text>
<text transform="translate(1121.1 192.7) scale(1 1.035)">-10</text>
<text transform="translate(1121.1 343.7) scale(1 1.035)">-20</text>
<text transform="translate(1121.1 494.8) scale(1 1.035)">-30</text>
<text transform="translate(1121.1 645.8) scale(1 1.035)">-40</text>
</g>
<text x="1488" y="745.2" font-size="63.4" text-anchor="middle">Frequency (GHz)</text>
<text transform="translate(1008.9 484.3) rotate(-90)" font-size="64.5">S<tspan font-size="38" dy="25">DD</tspan><tspan dy="-25" dx="-1.5" font-size="66"> (dB)</tspan></text>
<text x="1428.6" y="809" font-size="42.6" text-anchor="middle">(b)</text>
<path d="M1591.3 422.4H1674.8" stroke="#000" stroke-width="5" stroke-linecap="round"/>
<rect x="1626.5" y="415.8" width="13.2" height="13.2" fill="#000" stroke="#000" stroke-width="2.4" stroke-linejoin="round"/>
<text x="1685.4" y="434.9" font-size="37.6" word-spacing="-1.4"><tspan font-style="italic" font-size="39">d</tspan><tspan x="1703.1">=0 mm</tspan></text>
<path d="M1591.3 468.9H1674.8" stroke="#f00" stroke-width="5" stroke-linecap="round"/>
<circle cx="1633.1" cy="468.9" r="8.4" fill="#f00"/>
<text x="1685.4" y="481.4" font-size="37.6" word-spacing="-1.4"><tspan font-style="italic" font-size="39">d</tspan><tspan x="1703.1">=0.2 mm</tspan></text>
<path d="M1591.3 515.4H1674.8" stroke="#00f" stroke-width="5" stroke-linecap="round"/>
<path d="M1633.1 505.6L1642.3 520.8L1623.9 520.8Z" fill="#00f" stroke="#00f" stroke-width="2" stroke-linejoin="round"/>
<text x="1685.4" y="527.9" font-size="37.6" word-spacing="-1.4"><tspan font-style="italic" font-size="39">d</tspan><tspan x="1703.1">=0.4 mm</tspan></text>
<path d="M1591.3 561.9H1674.8" stroke="#f0f" stroke-width="5" stroke-linecap="round"/>
<path d="M1633.1 571.7L1642.3 556.5L1623.9 556.5Z" fill="#f0f" stroke="#f0f" stroke-width="2" stroke-linejoin="round"/>
<text x="1685.4" y="574.4" font-size="37.6" word-spacing="-1.4"><tspan font-style="italic" font-size="39">d</tspan><tspan x="1703.1">=0.6 mm</tspan></text>
</svg>
</body>
</html>
